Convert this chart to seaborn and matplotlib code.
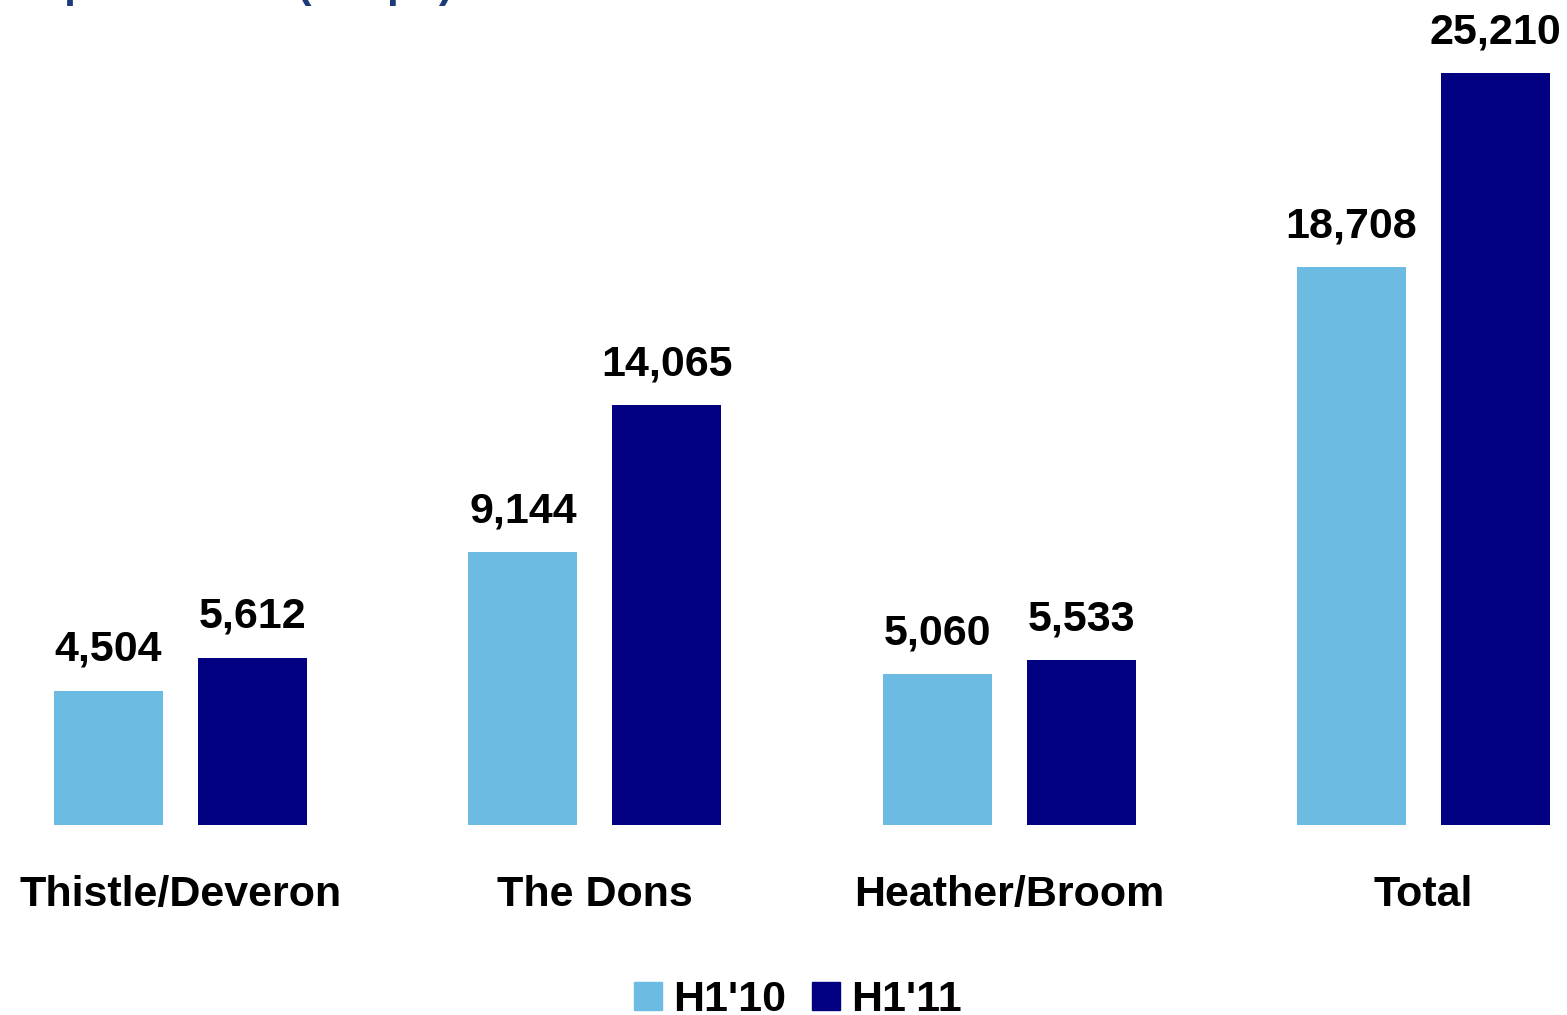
import matplotlib
matplotlib.use("Agg")
import matplotlib.pyplot as plt
import matplotlib.patches as mpatches
import seaborn as sns
import pandas as pd

# Production by field, first half of each year
categories = ["Thistle/Deveron", "The Dons", "Heather/Broom", "Total"]
h1_2010 = [4504, 9144, 5060, 18708]
h1_2011 = [5612, 14065, 5533, 25210]
series_names = ["H1'10", "H1'11"]
colors = ["#6CBBE2", "#000080"]
title_text = "Net production (boepd)"

df = pd.DataFrame({
    "field": categories * 2,
    "period": [series_names[0]] * len(categories) + [series_names[1]] * len(categories),
    "boepd": h1_2010 + h1_2011,
})

sns.set_theme(style="white")
plt.rcParams["font.family"] = ["Liberation Sans", "DejaVu Sans"]
plt.rcParams["font.weight"] = "bold"

W, H = 1567, 1015
fig = plt.figure(figsize=(W / 100, H / 100), dpi=100)
base_px = 825
ax = fig.add_axes([0, (H - base_px) / H, 1, base_px / H])

sns.barplot(data=df, x="field", y="boepd", hue="period", order=categories,
            hue_order=series_names, palette=colors, width=0.695, gap=0.243,
            saturation=1, linewidth=0, legend=False, ax=ax)

px_per_unit = (825 - 73) / 25210.0
ax.set_ylim(0, base_px / px_per_unit)
cx0, step = 180.5, 414.3
ax.set_xlim(-cx0 / step, (W - cx0) / step)

for side in ax.spines.values():
    side.set_visible(False)
ax.set_yticks([])
ax.set_xlabel("")
ax.set_ylabel("")
ax.tick_params(axis="x", length=0, pad=36, labelsize=31, labelcolor="black")
for lab in ax.get_xticklabels():
    lab.set_fontweight("bold")

# value labels above each bar
for cont in ax.containers:
    for bar in cont:
        h = bar.get_height()
        ax.annotate(f"{h:,.0f}", (bar.get_x() + bar.get_width() / 2, h),
                    xytext=(0, 21.5), textcoords="offset points",
                    ha="center", va="baseline", fontsize=31,
                    fontweight="bold", color="black", annotation_clip=False)

handles = [mpatches.Patch(color=c, label=n) for c, n in zip(colors, series_names)]
fig.legend(handles=handles, loc="center", bbox_to_anchor=(798 / W, 15 / H),
           ncol=2, frameon=False, fontsize=31, handlelength=0.65,
           handleheight=0.65, handletextpad=0.25, columnspacing=0.6,
           borderaxespad=0, borderpad=0, labelcolor="black")

fig.text(-0.010, 1 + 3 / H, title_text, ha="left", va="baseline",
         fontsize=30.5, fontweight="bold", color="#1B3A7A")

fig.savefig("out.png", dpi=100)
